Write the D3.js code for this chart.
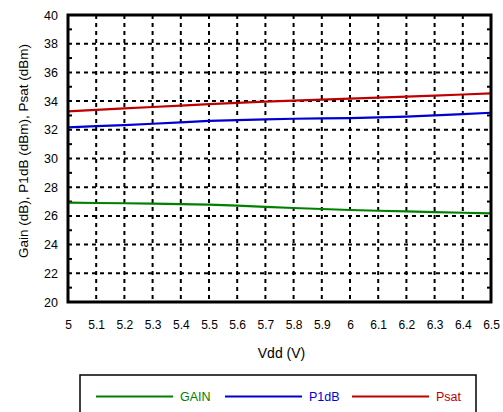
<!DOCTYPE html>
<html><head><meta charset="utf-8">
<script src="https://cdn.jsdelivr.net/npm/d3@7"></script>
<style>body{margin:0;background:#fff}svg{display:block;font-family:"Liberation Sans",Arial,sans-serif}</style>
</head><body><svg id="c" width="503" height="412"></svg>
<script>
const vdd   = [5.0,5.1,5.2,5.3,5.4,5.5,5.6,5.7,5.8,5.9,6.0,6.1,6.2,6.3,6.4,6.5];
const gain  = [26.92,26.90,26.88,26.85,26.82,26.78,26.71,26.63,26.55,26.48,26.41,26.36,26.32,26.27,26.22,26.18];
const p1db  = [32.17,32.25,32.33,32.42,32.52,32.62,32.68,32.73,32.77,32.79,32.81,32.86,32.92,33.00,33.09,33.19];
const psat  = [33.29,33.39,33.49,33.59,33.69,33.79,33.88,33.96,34.03,34.10,34.17,34.24,34.31,34.38,34.46,34.54];
const xTicks = [5,5.1,5.2,5.3,5.4,5.5,5.6,5.7,5.8,5.9,6,6.1,6.2,6.3,6.4,6.5];
const yTicks = [20,22,24,26,28,30,32,34,36,38,40];
const yMinor = [21,23,25,27,29,31,33,35,37,39];
const seriesNames = ["GAIN","P1dB","Psat"];
const seriesColors = ["#008000","#0000d0","#c00000"];

const svg = d3.select("#c");
const L=68,T=15,R=491,B=302;
const x = d3.scaleLinear().domain([5,6.5]).range([L,R]);
const y = d3.scaleLinear().domain([20,40]).range([B,T]);

const g = svg.append("g");
g.selectAll(".vg").data(xTicks.slice(1,-1)).enter().append("line")
 .attr("x1",d=>x(d)).attr("x2",d=>x(d)).attr("y1",T).attr("y2",B)
 .attr("stroke","#000").attr("stroke-width",2).attr("stroke-dasharray","4,4");
g.selectAll(".hg").data(yTicks.slice(1,-1)).enter().append("line")
 .attr("y1",d=>y(d)).attr("y2",d=>y(d)).attr("x1",L).attr("x2",R)
 .attr("stroke","#000").attr("stroke-width",2).attr("stroke-dasharray","4,4");
g.selectAll(".ml").data(yMinor).enter().append("line")
 .attr("x1",L).attr("x2",L+4).attr("y1",d=>y(d)).attr("y2",d=>y(d)).attr("stroke","#000").attr("stroke-width",2);
g.selectAll(".mr").data(yMinor).enter().append("line")
 .attr("x1",R-4).attr("x2",R).attr("y1",d=>y(d)).attr("y2",d=>y(d)).attr("stroke","#000").attr("stroke-width",2);

const data=[gain,p1db,psat];
const line = d3.line().x((d,i)=>x(vdd[i])).y(d=>y(d));
data.forEach((s,k)=>{
  svg.append("path").datum(s).attr("d",line).attr("fill","none")
   .attr("stroke",seriesColors[k]).attr("stroke-width",2.2);
});

svg.append("rect").attr("x",L).attr("y",T).attr("width",R-L).attr("height",B-T)
 .attr("fill","none").attr("stroke","#000").attr("stroke-width",3);

const xa = d3.axisBottom(x).tickValues(xTicks).tickSize(0).tickPadding(0).tickFormat(d3.format("~g"));
const xg = svg.append("g").attr("transform",`translate(0,${B+27})`).call(xa);
xg.select(".domain").remove();
xg.selectAll("text").attr("font-size",12).attr("fill","#000").attr("dy",0).attr("y",0)
 .attr("font-family","Liberation Sans, Arial, sans-serif");
const ya = d3.axisLeft(y).tickValues(yTicks).tickSize(0).tickPadding(0);
const yg = svg.append("g").attr("transform",`translate(${L-10},0)`).call(ya);
yg.select(".domain").remove();
yg.selectAll("text").attr("font-size",12.5).attr("fill","#000").attr("x",0)
 .attr("font-family","Liberation Sans, Arial, sans-serif");

svg.append("text").attr("x",(L+R)/2+2).attr("y",358).attr("text-anchor","middle")
 .attr("font-size",14).text("Vdd (V)");
svg.append("text").attr("transform",`translate(28,151) rotate(-90)`).attr("text-anchor","middle")
 .attr("font-size",13.5).text("Gain (dB), P1dB (dBm), Psat (dBm)");

svg.append("rect").attr("x",80).attr("y",375).attr("width",396).attr("height",60)
 .attr("fill","#fff").attr("stroke","#000").attr("stroke-width",1.5);
const lx=[96,225,352];
seriesNames.forEach((n,k)=>{
  svg.append("line").attr("x1",lx[k]).attr("x2",lx[k]+77).attr("y1",396.5).attr("y2",396.5)
   .attr("stroke",seriesColors[k]).attr("stroke-width",2.2);
  svg.append("text").attr("x",lx[k]+84).attr("y",400.5).attr("font-size",12.5)
   .attr("fill",seriesColors[k]).text(n);
});
</script></body></html>
